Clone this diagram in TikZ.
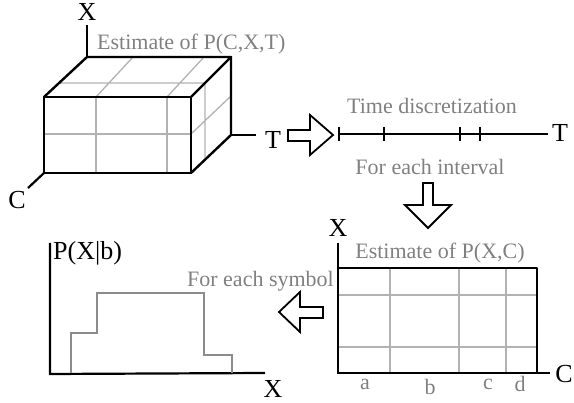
\documentclass[tikz,border=0pt]{standalone}
\usepackage{fontspec}
\setmainfont{Liberation Serif}
\usepackage{xcolor}
\usepackage{tikz}
\usetikzlibrary{positioning}

\begin{document}
\begin{tikzpicture}[x=1pt, y=-1pt,
                edge/.style={line width=2.4pt, line join=round, line cap=round},
                axis/.style={line width=2.2pt},
                grid/.style={draw=gray!60, line width=1.3pt},
                curve/.style={draw=gray!90, line width=1.5pt},
                hollow/.style={draw=black, line width=1.8pt, fill=white, line join=miter},
                note/.style={text=gray, font=\fontsize{22}{24}\selectfont, inner sep=0pt},
                lbl/.style={text=black, font=\fontsize{26}{28}\selectfont, inner sep=0pt}
            ]
                \useasboundingbox (0,0) rectangle (574,403);

                % cube P(C,X,T)
                \coordinate (f1) at (44,97);
                \coordinate (f2) at (191,97);
                \coordinate (f3) at (191,173);
                \coordinate (f4) at (44,173);
                \coordinate (b1) at (87,57);
                \coordinate (b2) at (231,57);
                \coordinate (b3) at (231,135);
                \draw [grid] (96,97) -- (96,173) (167,97) -- (167,173) (44,134) -- (191,134);
                \draw [grid] (96,97) -- (133,57) (167,97) -- (204,57) (59,83) -- (205,83);
                \draw [grid] (205,83) -- (205,160) (191,134) -- (231,96);
                \draw [edge] (f1) -- (f2) -- (f3) -- (f4) -- cycle;
                \draw [edge] (f1) -- (b1) -- (b2) -- (f2);
                \draw [edge] (b2) -- (b3) -- (f3);
                \coordinate (cx) at (87,25);
                \coordinate (ct) at (256,135);
                \coordinate (cc) at (28,188);
                \draw [axis] (b1) -- (cx);
                \draw [axis] (b3) -- (ct);
                \draw [axis] (f4) -- (cc);
                \node (cubex) [lbl] at (87,12) {X};
                \node (cubet) [lbl] at (273,140) {T};
                \node (cubec) [lbl] at (17,200) {C};
                \node (cubetitle) [note, anchor=west] at (97,44) {Estimate of P(C,X,T)};

                % hollow arrows
                \draw [hollow] (288,130) -- (310,130) -- (310,115) -- (333,135) -- (310,155) -- (310,141) -- (288,141) -- cycle;
                \draw [hollow] (423,183) -- (433,183) -- (433,205) -- (451,205) -- (428,228) -- (405,205) -- (423,205) -- cycle;
                \draw [hollow] (323,307) -- (300,307) -- (300,292) -- (279,312) -- (300,332) -- (300,318) -- (323,318) -- cycle;

                % time axis
                \coordinate (t0) at (339,134);
                \coordinate (t1) at (548,134);
                \draw [axis] (t0) -- (t1);
                \foreach \x in {339,384,460,480}
                    \draw [axis] (\x,127) -- (\x,141);
                \node (timet) [lbl] at (560,133) {T};
                \node (timetitle) [note] at (432,106) {Time discretization};
                \node (interval) [note] at (430,167) {For each interval};

                % table P(X,C)
                \draw [grid] (390,268) -- (390,373) (459,268) -- (459,373) (506,268) -- (506,373);
                \draw [grid] (338,295) -- (537,295) (338,347) -- (537,347);
                \coordinate (tx) at (338,243);
                \coordinate (to) at (338,373);
                \coordinate (tc) at (550,373);
                \draw [axis] (tx) -- (to) -- (tc);
                \draw [edge] (338,268) -- (537,268) -- (537,373);
                \node (tabx) [lbl] at (338,228) {X};
                \node (tabc) [lbl] at (564,374) {C};
                \node (tabtitle) [note] at (440,253) {Estimate of P(X,C)};
                \node (syma) [note] at (365,384) {a};
                \node (symb) [note] at (430,387) {b};
                \node (symc) [note] at (488,384) {c};
                \node (symd) [note] at (520,384) {d};
                \node (eachsym) [note, anchor=east] at (334,281) {For each symbol};

                % histogram P(X|b)
                \coordinate (hy) at (50,243);
                \coordinate (ho) at (50,374);
                \coordinate (hx) at (265,373);
                \draw [axis] (hy) -- (ho) -- (hx);
                \draw [curve] (71,373) -- (71,333) -- (97,333) -- (97,293) -- (204,293) -- (204,355) -- (232,355) -- (232,373);
                \node (histy) [lbl, anchor=west] at (53,253) {P(X|b)};
                \node (histx) [lbl] at (273,389) {X};
            \end{tikzpicture}
\end{document}
